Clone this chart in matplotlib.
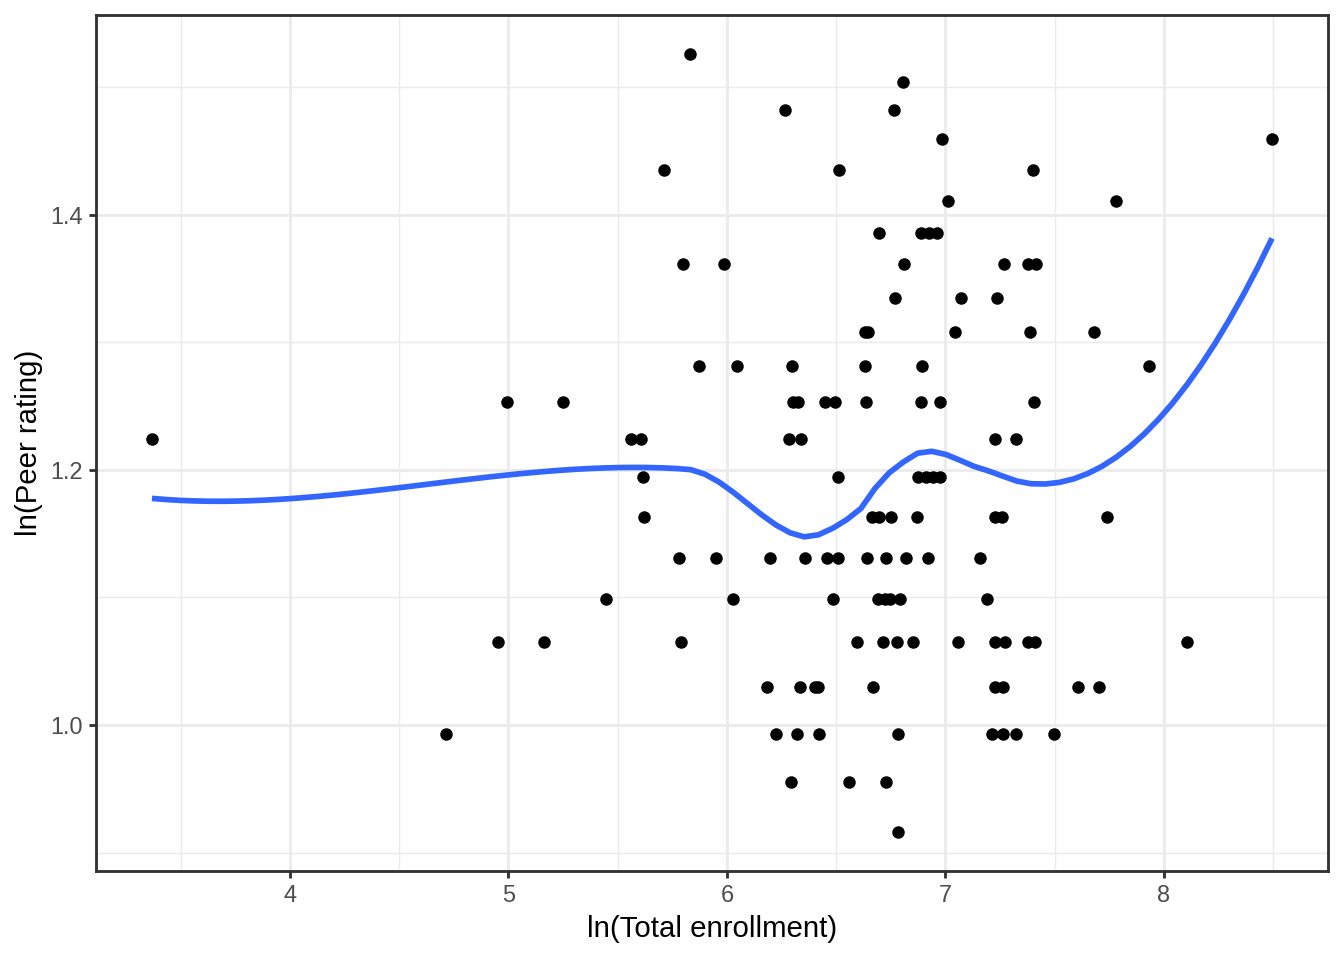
import numpy as np
import matplotlib
matplotlib.use("Agg")
import matplotlib.pyplot as plt
from matplotlib.ticker import MultipleLocator, FixedLocator

# ln(Total enrollment)
enroll = [
    5.830,
    6.807,
    6.267, 6.766,
    6.985, 8.495,
    5.714, 6.514, 7.401,
    7.013, 7.781,
    6.697, 6.889, 6.926, 6.962,
    5.797, 5.989, 6.811, 7.269, 7.378, 7.415,
    6.770, 7.072, 7.237,
    6.633, 6.647, 7.045, 7.387, 7.680,
    5.874, 6.048, 6.299, 6.633, 6.894, 7.931,
    4.992, 5.248, 6.304, 6.327, 6.450, 6.496, 6.638, 6.889, 6.976, 7.406,
    3.369, 5.559, 5.609, 6.286, 6.341, 7.227, 7.323,
    5.614, 6.510, 6.875, 6.911, 6.943, 6.975,
    5.623, 6.665, 6.697, 6.752, 6.871, 7.227, 7.259, 7.739,
    5.783, 5.952, 6.199, 6.359, 6.459, 6.510, 6.642, 6.729, 6.821, 6.921, 7.159,
    5.445, 6.030, 6.487, 6.693, 6.725, 6.747, 6.793, 7.191,
    4.951, 5.161, 5.792, 6.597, 6.715, 6.779, 6.853, 7.058, 7.227, 7.273, 7.378, 7.410, 8.105,
    6.185, 6.336, 6.405, 6.418, 6.670, 7.227, 7.264, 7.607, 7.703,
    4.713, 6.226, 6.322, 6.423, 6.784, 7.214, 7.264, 7.323, 7.497,
    6.295, 6.560, 6.729,
    6.784,
]
# ln(Peer rating)
peer = (
    [1.526] * 1 + [1.504] * 1 + [1.482] * 2 + [1.459] * 2 + [1.435] * 3 +
    [1.411] * 2 + [1.386] * 4 + [1.361] * 6 + [1.335] * 3 + [1.308] * 5 +
    [1.281] * 6 + [1.253] * 10 + [1.224] * 7 + [1.194] * 6 + [1.163] * 8 +
    [1.131] * 11 + [1.099] * 8 + [1.065] * 13 + [1.030] * 9 + [0.993] * 9 +
    [0.955] * 3 + [0.916] * 1
)

x_ticks = [4, 5, 6, 7, 8]
y_ticks = [1.0, 1.2, 1.4]
x_label = "ln(Total enrollment)"
y_label = "ln(Peer rating)"

x = np.array(enroll)
y = np.array(peer)


def local_fit(xd, yd, x0, q):
    n = len(xd)
    d = np.abs(xd - x0)
    h = np.sort(d)[q - 1]
    w = np.clip(1 - (d / h) ** 3, 0, None) ** 3
    X = np.column_stack([np.ones(n), xd - x0, (xd - x0) ** 2])
    sw = np.sqrt(w)
    beta = np.linalg.lstsq(X * sw[:, None], yd * sw, rcond=None)[0]
    return beta[0], beta[1]


def loess(xd, yd, xs, span=0.75, cell=0.2):
    # loess with kd-tree vertices and cubic Hermite interpolation (like R)
    n = len(xd)
    q = int(np.floor(n * span))
    fc = int(np.floor(n * span * cell))
    xsrt = np.sort(xd)
    lo, hi = xsrt[0], xsrt[-1]
    mu = 0.005 * (hi - lo)
    verts = {lo - mu, hi + mu}

    def split(l, u):
        if u - l + 1 <= fc:
            return
        m = (l + u) // 2
        v = 0.5 * (xsrt[m] + xsrt[m + 1]) if (u - l + 1) % 2 == 0 else xsrt[m]
        verts.add(v)
        split(l, m)
        split(m + 1, u)

    split(0, n - 1)
    vx = np.array(sorted(verts))
    vals = np.array([local_fit(xd, yd, v, q) for v in vx])
    out = []
    for x0 in xs:
        i = min(max(np.searchsorted(vx, x0) - 1, 0), len(vx) - 2)
        x1, x2 = vx[i], vx[i + 1]
        hh = x2 - x1
        t = (x0 - x1) / hh
        h00 = 2 * t ** 3 - 3 * t ** 2 + 1
        h10 = t ** 3 - 2 * t ** 2 + t
        h01 = -2 * t ** 3 + 3 * t ** 2
        h11 = t ** 3 - t ** 2
        out.append(h00 * vals[i, 0] + h10 * hh * vals[i, 1] +
                   h01 * vals[i + 1, 0] + h11 * hh * vals[i + 1, 1])
    return np.array(out)


xs = np.linspace(x.min(), x.max(), 80)
ys = loess(x, y, xs)

plt.rcParams['font.family'] = ['Liberation Sans', 'DejaVu Sans']
fig = plt.figure(figsize=(7, 5), dpi=192)
ax = fig.add_axes([96 / 1344, 1 - 871 / 960, (1328 - 96) / 1344, (871 - 15) / 960])

ax.scatter(x, y, s=22, color='black', linewidths=0, zorder=3)
ax.plot(xs, ys, color='#3366FF', lw=2.13, zorder=4, solid_capstyle='butt')
ax.margins(0.05)

ax.xaxis.set_major_locator(FixedLocator(x_ticks))
ax.yaxis.set_major_locator(FixedLocator(y_ticks))
ax.xaxis.set_minor_locator(MultipleLocator(0.5))
ax.yaxis.set_minor_locator(MultipleLocator(0.1))
ax.set_yticklabels([f"{v:.1f}" for v in y_ticks])
ax.set_xticklabels([str(v) for v in x_ticks])

ax.grid(which='major', color='#EBEBEB', lw=1.07)
ax.grid(which='minor', color='#EBEBEB', lw=0.53)
ax.set_axisbelow(True)
ax.tick_params(which='minor', length=0)
ax.tick_params(which='major', length=2.74, width=1.07, color='#333333',
               labelcolor='#4D4D4D', labelsize=8.8, pad=2.2)
for s in ax.spines.values():
    s.set_color('#333333')
    s.set_linewidth(1.07)

ax.set_xlabel(x_label, fontsize=11, color='black', labelpad=2.75)
ax.set_ylabel(y_label, fontsize=11, color='black', labelpad=2.75)

fig.savefig("out.png", dpi=192, facecolor='white')
